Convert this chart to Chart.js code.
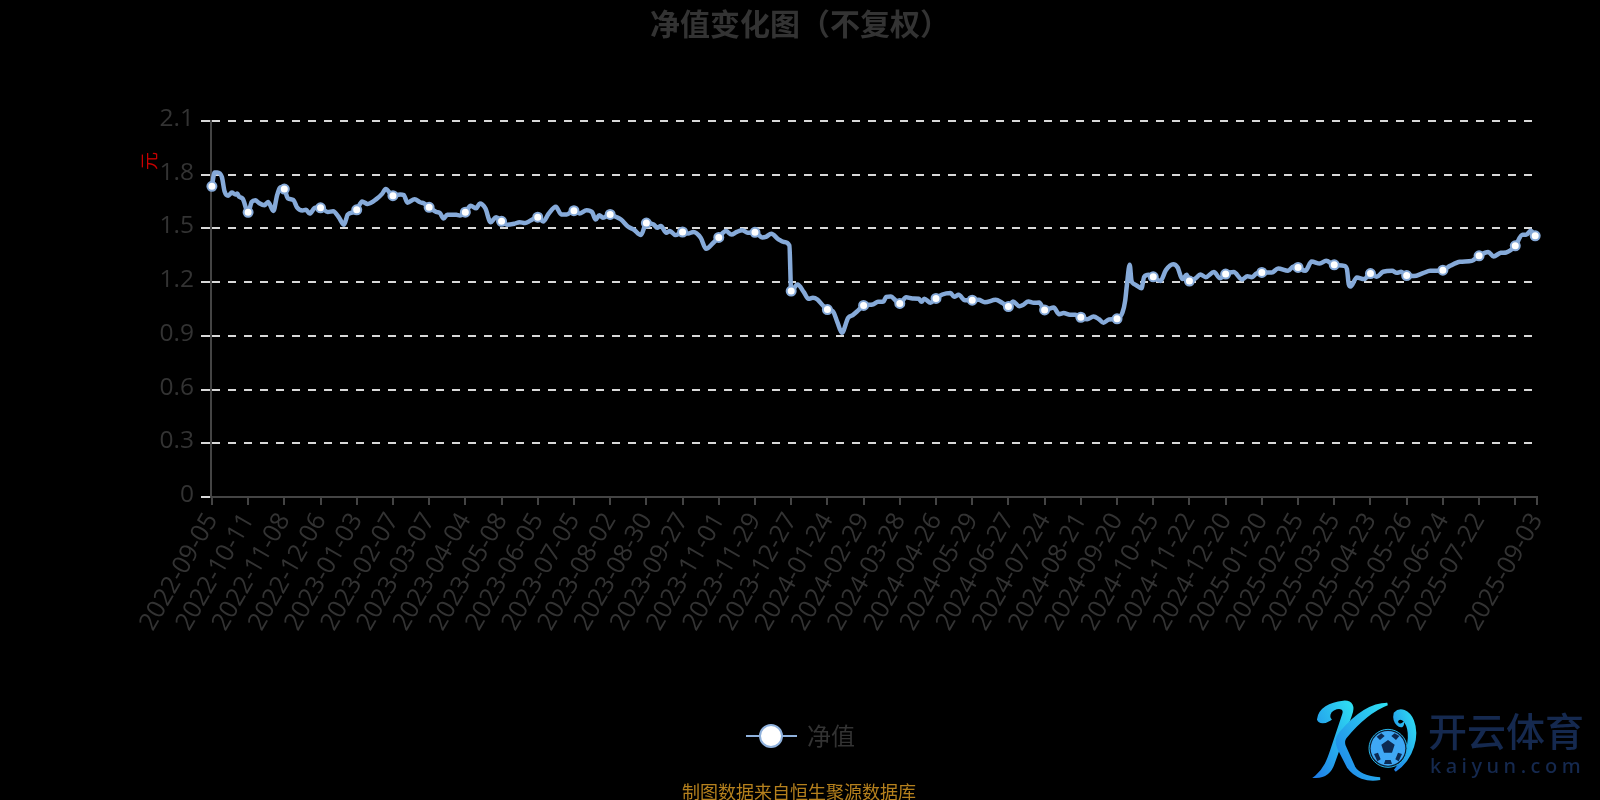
<!DOCTYPE html>
<html><head><meta charset="utf-8">
<script src="https://cdn.jsdelivr.net/npm/chart.js@4"></script>
<style>
html,body{margin:0;padding:0;background:#000;width:1600px;height:800px;overflow:hidden}
#wrap{position:relative;width:1600px;height:800px}
canvas{position:absolute;left:0;top:0}
.t{position:absolute;white-space:nowrap;font-family:"Noto Sans CJK SC","Noto Sans",sans-serif}
</style></head><body><div id="wrap"><canvas id="c" width="1600" height="800"></canvas>
<div class="t" style="left:650px;top:0px;font-size:30px;font-weight:700;color:#333">净值变化图（不复权）</div>
<div class="t" style="left:682px;top:778px;font-size:18px;color:#b5801d">制图数据来自恒生聚源数据库</div>
<div class="t" style="left:139px;top:148px;font-size:18px;color:#c80000;transform:rotate(-90deg)">元</div>
<svg style="position:absolute;left:1280px;top:680px" width="320" height="120" viewBox="0 0 960 360">
<defs><linearGradient id="lg" x1="0" y1="1" x2="1" y2="0"><stop offset="0" stop-color="#1f7fe8"/><stop offset="1" stop-color="#2fe0f2"/></linearGradient></defs>
<g fill="url(#lg)" stroke="url(#lg)" stroke-width="8">
<path d="M115 118C118 88 150 70 190 66C215 64 222 80 212 105L160 250C150 280 130 290 108 290C135 268 145 240 155 210L190 105C198 84 180 78 160 88C145 96 145 112 150 118C135 128 118 128 115 118Z"/>
<path d="M322 72C280 88 235 125 196 172C190 180 190 190 194 200L222 262C232 280 262 292 300 296C262 304 225 290 205 262L176 205C168 190 170 172 182 158C222 110 270 72 322 72Z"/>
<path d="M345 100C360 84 385 92 398 122C415 165 400 235 345 272C375 235 395 190 385 145C378 120 362 108 352 120C345 130 360 138 368 132C366 148 338 130 345 100Z"/>
</g>
<circle cx="324" cy="205" r="57" fill="#0a1a2e" stroke="#27b5e8" stroke-width="3"/>
<circle cx="324" cy="205" r="52" fill="#3fa8f5"/>
<path fill="#0d2a52" d="M324 180l20 14-8 24h-24l-8-24zM290 170l14-10 10 8-14 12zM358 168l-14-8-10 8 14 12zM282 222l12-4 8 20-10 6zM366 222l-12-4-8 20 10 6zM312 252l24 0-4-12h-16z"/>
</svg>
<div class="t" style="left:1428px;top:707px;font-size:39px;line-height:44px;font-weight:500;color:#15294f">开云体育</div>
<div class="t" style="left:1430px;top:752px;font-size:20px;font-weight:500;letter-spacing:4.5px;color:#15294f;font-family:'Noto Sans'">kaiyun.com</div>
</div>
<script>
const navDays=[
0,1.5,3,5.5,7,9,11,13,14,15,17,20,
22,24,26,29,31,34,36,38,40,
42,45,47,50,52,54,57,60,
64,67,70,73,75,78,80,
83,86,91,94,96,100,
104,106,108,112,115,117,120,
124,126,128,130,135,137,140,
143,146,148,151,154,157,160,
163,167,170,173,176,180,
183,186,190,193,196,200,
203,207,210,212,214,216,220,
223,226,230,233,237,240,
244,246,248,251,253,256,260,
263,266,270,273,277,280,
284,287,290,293,296,300,
304,306,309,313,316,319,320,
323.5,327,329.5,332,334.5,337,340,
343,345.5,348,351.5,354,357,360,
365,368,371,372.5,375,378,380,
383.5,387,390.5,392,393.5,397,400,
403.5,408,410,412.5,416,420,
423.5,427,433,436.5,440,
442.5,446,448,451,454,457,460,
462,465,468,470.5,474,477,480,
483.5,487,490,492.5,495.5,500,
503,504.5,505.5,507,508,509.5,511,513.5,515,517.5,520,
524,527,531,533.5,536,538.5,540,
543.5,546,549,553.5,557,560,
564.5,569,572,574.5,577,580,
585.5,589,594.5,597.5,600,
604,607.5,612,615.5,620,
625.5,627,628,629,632.5,636.5,640,
643.5,647,652,654.5,657,660,
664,669,673,676.5,680,
684,689.5,696,700,
705,708,712,715,720,
724,726,728.5,731];
const navValues=[
1.735,1.813,1.813,1.787,1.707,1.683,1.70,1.69,1.695,1.677,1.666,1.59,
1.648,1.657,1.642,1.63,1.648,1.598,1.685,1.73,1.72,
1.668,1.659,1.618,1.6,1.604,1.583,1.615,1.615,
1.592,1.596,1.564,1.521,1.577,1.59,1.604,
1.65,1.637,1.665,1.693,1.72,1.683,
1.69,1.687,1.644,1.663,1.646,1.64,1.618,
1.592,1.585,1.555,1.577,1.576,1.572,1.591,
1.626,1.613,1.639,1.613,1.535,1.563,1.54,
1.52,1.526,1.535,1.53,1.544,1.563,
1.539,1.582,1.621,1.578,1.578,1.599,
1.584,1.602,1.591,1.55,1.574,1.56,1.578,
1.565,1.55,1.509,1.494,1.463,1.53,
1.522,1.504,1.513,1.476,1.485,1.463,1.48,
1.472,1.48,1.448,1.386,1.42,1.45,
1.485,1.466,1.481,1.49,1.476,1.478,
1.45,1.453,1.47,1.439,1.424,1.405,1.15,
1.187,1.144,1.107,1.113,1.103,1.075,1.047,
1.038,0.977,0.917,1.001,1.016,1.042,1.07,
1.075,1.09,1.092,1.118,1.12,1.094,1.081,
1.115,1.109,1.107,1.09,1.107,1.085,1.109,
1.131,1.14,1.118,1.129,1.099,1.099,
1.101,1.088,1.101,1.085,1.064,
1.092,1.066,1.072,1.092,1.085,1.086,1.045,
1.049,1.058,1.021,1.027,1.018,1.018,1.004,
0.993,1.008,0.993,0.973,0.991,0.995,
1.03,1.096,1.189,1.297,1.207,1.189,1.18,1.166,1.23,1.241,1.23,
1.207,1.267,1.30,1.282,1.217,1.241,1.206,
1.222,1.243,1.228,1.256,1.222,1.245,
1.256,1.215,1.233,1.228,1.248,1.254,
1.254,1.276,1.263,1.288,1.282,
1.263,1.315,1.304,1.319,1.297,
1.291,1.273,1.189,1.176,1.226,1.217,1.248,
1.23,1.258,1.263,1.252,1.258,1.237,
1.234,1.25,1.263,1.263,1.267,
1.291,1.314,1.319,1.347,
1.369,1.343,1.364,1.366,1.403,
1.464,1.464,1.487,1.459];
const markerDays=[0,20,40,60,80,100,120,140,160,180,200,220,240,260,280,300,320,340,360,380,400,420,440,460,480,500,520,540,560,580,600,620,640,660,680,700,720,731];
const tickLabels=['2022-09-05','2022-10-11','2022-11-08','2022-12-06','2023-01-03','2023-02-07','2023-03-07','2023-04-04','2023-05-08','2023-06-05','2023-07-05','2023-08-02','2023-08-30','2023-09-27','2023-11-01','2023-11-29','2023-12-27','2024-01-24','2024-02-29','2024-03-28','2024-04-26','2024-05-29','2024-06-27','2024-07-24','2024-08-21','2024-09-20','2024-10-25','2024-11-22','2024-12-20','2025-01-20','2025-02-25','2025-03-25','2025-04-23','2025-05-26','2025-06-24','2025-07-22','','2025-09-03'];
const tickDays=[0,20,40,60,80,100,120,140,160,180,200,220,240,260,280,300,320,340,360,380,400,420,440,460,480,500,520,540,560,580,600,620,640,660,680,700,720,732];
const yTicks=[0,0.3,0.6,0.9,1.2,1.5,1.8,2.1];
const seriesName='净值';
const points=navDays.map((d,i)=>({x:d,y:navValues[i]}));
const isMarker=c=>markerDays.includes(c.raw&&c.raw.x);
const legendMark={id:'legendMark',afterDraw(ch){const g=ch.ctx;g.save();
 const y=736,cx=771;g.strokeStyle='#8fb1dc';g.lineWidth=2;g.beginPath();g.moveTo(746,y);g.lineTo(797,y);g.stroke();
 g.fillStyle='#fff';g.lineWidth=2;g.beginPath();g.arc(cx,y,11,0,Math.PI*2);g.fill();g.stroke();
 g.fillStyle='#333';g.font='24px "Noto Sans CJK SC"';g.textBaseline='middle';g.fillText(seriesName,807,736);g.restore();}};
new Chart(document.getElementById('c'),{type:'line',plugins:[legendMark],
 data:{datasets:[{label:seriesName,data:points,borderColor:'#86aad9',borderWidth:4.5,cubicInterpolationMode:'monotone',clip:false,
  pointRadius:c=>isMarker(c)?4.5:0,pointHoverRadius:0,pointBackgroundColor:'#fff',pointBorderColor:'#86aad9',pointBorderWidth:2}]},
 options:{responsive:false,animation:false,events:[],
  layout:{padding:{left:141,right:63,top:121,bottom:163}},
  plugins:{legend:{display:false},title:{display:false},tooltip:{enabled:false}},
  scales:{
   x:{type:'linear',min:-0.5,max:732,
    afterBuildTicks(s){s.ticks=tickDays.map(v=>({value:v}));},
    afterFit(s){s.height=140;},
    grid:{drawOnChartArea:false,drawTicks:true,tickLength:8,color:'#444',tickColor:'#444',lineWidth:2},
    border:{color:'#444',width:2},
    ticks:{autoSkip:false,minRotation:60,maxRotation:60,padding:3,color:'#333',font:{family:'"Open Sans"',size:25},
     callback(v){const i=tickDays.indexOf(v);return i<0?'':tickLabels[i];}}},
   y:{min:0,max:2.1,
    afterBuildTicks(s){s.ticks=yTicks.map(v=>({value:v}));},
    afterFit(s){s.width=70;},
    grid:{color:'#d8d8d8',lineWidth:2,tickLength:10,tickColor:'#d8d8d8',drawTicks:true},
    border:{color:'#444',width:2,dash:[8,8]},
    ticks:{padding:7,labelOffset:-2,color:'#333',font:{family:'"Open Sans"',size:24.5},callback:v=>String(v)}}
  }}});
</script></body></html>
